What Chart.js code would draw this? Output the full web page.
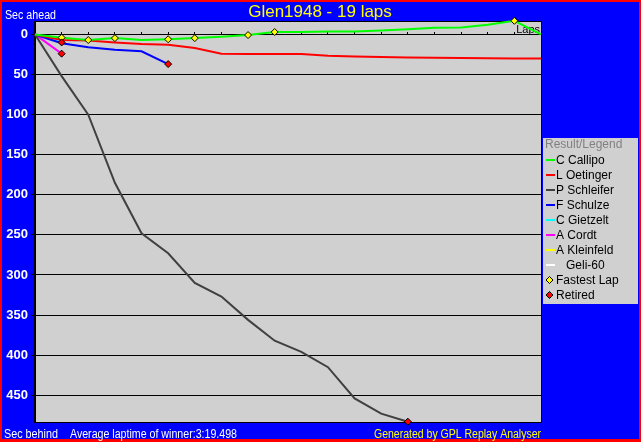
<!DOCTYPE html>
<html>
<head>
<meta charset="utf-8">
<script src="https://cdn.jsdelivr.net/npm/chart.js@4.4.1/dist/chart.umd.min.js"></script>
<style>
  html, body { margin: 0; padding: 0; background: #0000ff; }
  canvas { display: block; }
</style>
</head>
<body>
<canvas id="grafico" width="641" height="442"></canvas>
<script>
// Dados (segundos atrás do vencedor, por volta) ===============================

const laps = [0, 1, 2, 3, 4, 5, 6, 7, 8, 9, 10, 11, 12, 13, 14, 15, 16, 17, 18, 19];

const callipo = [0, 4, 7, 4.6, 7, 6, 4.6, 3, 0.8, -3, -3, -3.5, -3.8, -5, -6.5, -8.3, -8.6, -12, -17, 0];
const oetinger = [0, 7, 7.7, 10, 12, 13, 17, 24, 24.5, 24.5, 24.5, 26.5, 27.5, 28, 28.8, 29, 29.3, 29.8, 30, 30];
const schleifer = [0, 52, 100, 185, 248, 273, 310, 327, 356, 382, 396, 415, 454, 473, 483];
const schulze = [0, 11, 16, 19, 21, 37];
const gietzelt = [0, 10];
const cordt = [0, 24];
const kleinfeld = [];
const geli60 = [];

const fastestLaps = [1, 2, 3, 5, 6, 8, 9, 18];
const fastestSecs = [4, 7, 4.6, 6, 4.6, 0.8, -3, -17];

const retiredLaps = [1, 1, 5, 14];
const retiredSecs = [10, 24, 37, 483];

const yTicks = [0, 50, 100, 150, 200, 250, 300, 350, 400, 450];

// Datasets ======================================================================

function linha(label, data, cor) {
  return {
    label: label,
    data: data,
    borderColor: cor,
    backgroundColor: cor,
    borderWidth: 2,
    pointRadius: 0,
    tension: 0,
    clip: false,
  };
}

const datasets = [
  linha("C Callipo", callipo, "#00ff00"),
  linha("L Oetinger", oetinger, "#ff0000"),
  linha("P Schleifer", schleifer, "#404040"),
  linha("F Schulze", schulze, "#0000ff"),
  linha("C Gietzelt", gietzelt, "#00ffff"),
  linha("A Cordt", cordt, "#ff00ff"),
  linha("A Kleinfeld", kleinfeld, "#ffff00"),
  linha("   Geli-60", geli60, "#ffffff"),
  {
    label: "Fastest Lap",
    data: fastestLaps.map((l, i) => ({ x: l, y: fastestSecs[i] })),
    showLine: false,
    pointStyle: "rectRot",
    pointRadius: 3.5,
    pointBackgroundColor: "#ffff00",
    pointBorderColor: "#000000",
    pointBorderWidth: 1,
    marker: true,
    clip: false,
  },
  {
    label: "Retired",
    data: retiredLaps.map((l, i) => ({ x: l, y: retiredSecs[i] })),
    showLine: false,
    pointStyle: "rectRot",
    pointRadius: 3.5,
    pointBackgroundColor: "#ff0000",
    pointBorderColor: "#000000",
    pointBorderWidth: 1,
    marker: true,
    clip: false,
  },
];
// os marcadores ficam por cima das linhas
datasets[8].order = -1;
datasets[9].order = -2;

// Plugin: fundo, textos, legenda ================================================

const FONTE = '"Liberation Sans", Arial, sans-serif';

const moldura = {
  id: "moldura",
  beforeDraw(chart) {
    const ctx = chart.ctx;
    const a = chart.chartArea;
    ctx.save();
    ctx.fillStyle = "#ff0000";
    ctx.fillRect(0, 0, chart.width, chart.height);
    ctx.fillStyle = "#0000ff";
    ctx.fillRect(2, 2, chart.width - 4, chart.height - 5);
    ctx.fillStyle = "#d0d0d0";
    ctx.fillRect(a.left, a.top, a.right - a.left, a.bottom - a.top);
    ctx.restore();
  },
  beforeDatasetsDraw(chart) {
    const ctx = chart.ctx;
    const a = chart.chartArea;
    ctx.save();
    ctx.strokeStyle = "#000000";
    ctx.lineWidth = 1;
    ctx.strokeRect(a.left - 0.5, a.top - 0.5, a.right - a.left + 1, a.bottom - a.top + 1);
    ctx.fillStyle = "#000000";
    ctx.font = "11px " + FONTE;
    ctx.textAlign = "right";
    ctx.textBaseline = "middle";
    ctx.fillText("Laps", a.right - 1, a.top + 8);
    ctx.restore();
  },
  afterDraw(chart) {
    const ctx = chart.ctx;
    ctx.save();
    // título
    ctx.fillStyle = "#ffff00";
    ctx.font = "17px " + FONTE;
    ctx.textAlign = "center";
    ctx.textBaseline = "alphabetic";
    ctx.fillText("Glen1948 - 19 laps", 320, 17, 153);

    ctx.font = "12px " + FONTE;
    ctx.textAlign = "left";
    ctx.fillStyle = "#ffffff";
    ctx.fillText("Sec ahead", 5, 19, 51);
    ctx.fillText("Sec behind", 4, 438, 54);
    ctx.fillText("Average laptime of winner:3:19.498", 70, 438, 167);
    ctx.fillStyle = "#ffff00";
    ctx.textAlign = "right";
    ctx.fillText("Generated by GPL Replay Analyser", 541, 438, 167);

    // legenda
    ctx.fillStyle = "#d0d0d0";
    ctx.fillRect(543, 138, 95, 166);
    ctx.font = "12px " + FONTE;
    ctx.textAlign = "left";
    ctx.textBaseline = "middle";
    ctx.fillStyle = "#808080";
    ctx.fillText("Result/Legend", 545, 145);
    chart.data.datasets.forEach((ds, i) => {
      const y = 160 + 15 * i;
      if (ds.marker) {
        ctx.fillStyle = ds.pointBackgroundColor;
        ctx.strokeStyle = "#000000";
        ctx.lineWidth = 1;
        ctx.beginPath();
        ctx.moveTo(549.5, y - 3.5);
        ctx.lineTo(553, y);
        ctx.lineTo(549.5, y + 3.5);
        ctx.lineTo(546, y);
        ctx.closePath();
        ctx.fill();
        ctx.stroke();
      } else {
        ctx.strokeStyle = ds.borderColor;
        ctx.lineWidth = 2;
        ctx.beginPath();
        ctx.moveTo(546, y);
        ctx.lineTo(555, y);
        ctx.stroke();
      }
      ctx.fillStyle = "#000000";
      ctx.fillText(ds.label, 556, y + 0.5);
    });
    ctx.restore();
  },
};

// Gráfico =======================================================================

const config = {
  type: "line",
  data: { labels: laps, datasets: datasets },
  options: {
    responsive: false,
    animation: false,
    devicePixelRatio: 1,
    layout: { padding: { left: 0, top: 22, right: 100, bottom: 20 } },
    plugins: {
      legend: { display: false },
      title: { display: false },
      tooltip: { enabled: false },
    },
    scales: {
      x: {
        type: "linear",
        min: 0,
        max: 19,
        position: { y: 0 },
        ticks: { display: false, stepSize: 1 },
        grid: { drawOnChartArea: false, drawTicks: true, tickLength: -3, color: "#000000" },
        border: { display: true, color: "#000000", width: 1 },
      },
      y: {
        reverse: true,
        min: -15.5,
        max: 483.4,
        afterFit(scale) {
          scale.width = 35;
        },
        afterBuildTicks(scale) {
          scale.ticks = yTicks.map((v) => ({ value: v }));
        },
        ticks: {
          color: "#ffffff",
          padding: 3,
          font: { family: FONTE, size: 13, weight: "bold" },
        },
        grid: { color: "#000000", lineWidth: 1, tickLength: 4 },
        border: { display: true, color: "#000000" },
      },
    },
  },
  plugins: [moldura],
};

const grafico = new Chart(document.getElementById("grafico"), config);
</script>
</body>
</html>
